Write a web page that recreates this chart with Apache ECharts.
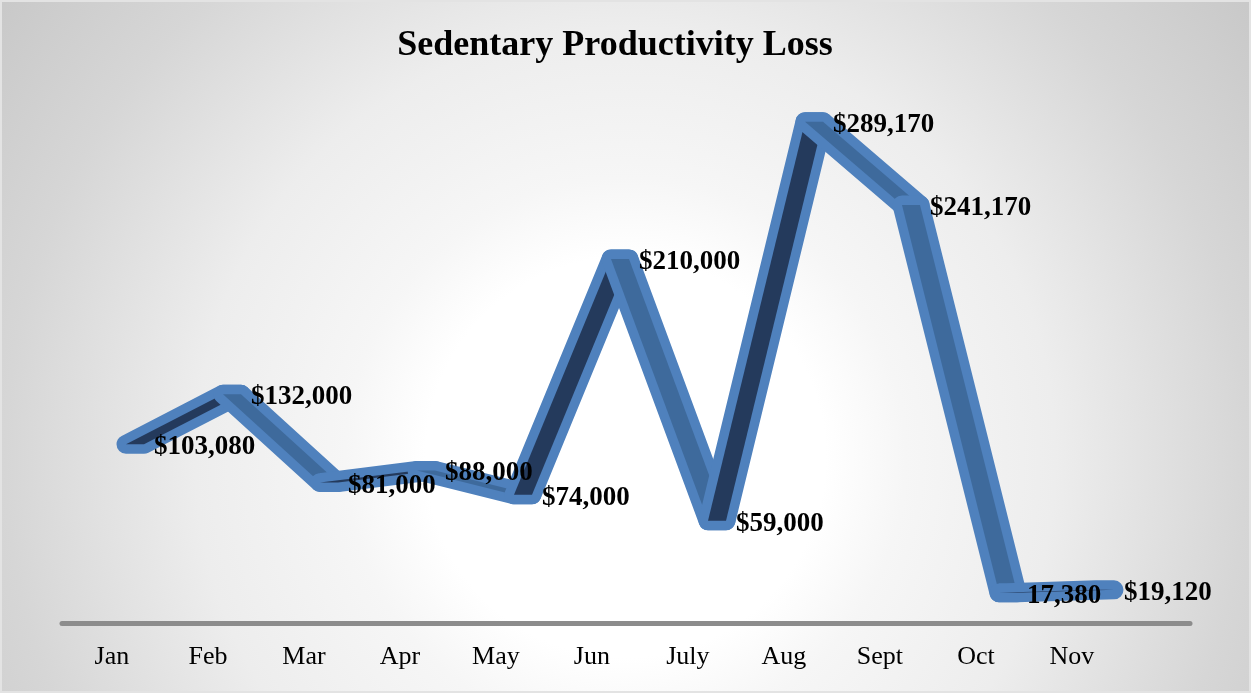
<!DOCTYPE html>
<html>
<head>
<meta charset="utf-8">
<title>Sedentary Productivity Loss</title>
<script src="https://cdn.jsdelivr.net/npm/echarts@6/dist/echarts.min.js"></script>
<style>
  html, body { margin: 0; padding: 0; }
  #chart {
    width: 1251px;
    height: 693px;
    background: radial-gradient(circle at 50% 66%, #ffffff 0px, #ffffff 200px, #f6f6f6 280px, #ededed 430px, #d6d6d6 620px, #c7c7c7 790px);
    box-shadow: inset 0 0 0 2px #e3e3e3;
  }
</style>
</head>
<body>
<div id="chart"></div>
<script>
// Monthly productivity loss
const months = ['Jan', 'Feb', 'Mar', 'Apr', 'May', 'Jun', 'July', 'Aug', 'Sept', 'Oct', 'Nov'];
const losses = [103080, 132000, 81000, 88000, 74000, 210000, 59000, 289170, 241170, 17380, 19120];
// months whose label is printed without the currency sign
const plainLabelMonths = ['Oct'];
const yMax = 300000;

const SERIF = '"Liberation Serif", "Times New Roman", serif';
const RIBBON = '#4f81bd';
const FACE_UP = '#243a5c';
const FACE_DOWN = '#3e6a9c';

// one item per segment: [start index, start value, end value]
const segments = losses.slice(0, -1).map((v, i) => [i, v, losses[i + 1]]);

function renderRibbon(params, api) {
  const i = api.value(0);
  const a = api.coord([i, api.value(1)]);
  const b = api.coord([i + 1, api.value(2)]);
  const half = 9; // half of the ribbon's depth, drawn as a horizontal skew
  const pts = [
    [a[0] - half, a[1]], [b[0] - half, b[1]],
    [b[0] + half, b[1]], [a[0] + half, a[1]]
  ];
  const rising = api.value(2) > api.value(1);
  return {
    type: 'group',
    children: [
      {
        type: 'polygon',
        shape: { points: pts },
        style: { fill: RIBBON, stroke: RIBBON, lineWidth: 19, lineJoin: 'round' }
      },
      {
        type: 'polygon',
        shape: { points: pts },
        style: { fill: rising ? FACE_UP : FACE_DOWN }
      }
    ]
  };
}

const chart = echarts.init(document.getElementById('chart'));
chart.setOption({
  backgroundColor: 'transparent',
  animation: false,
  title: {
    text: 'Sedentary Productivity Loss',
    left: 610,
    top: 23,
    textAlign: 'center',
    textStyle: { fontFamily: SERIF, fontWeight: 'bold', fontSize: 36, color: '#000' }
  },
  grid: [
    { left: 62, right: 61, top: 103, bottom: 70 },
    { left: 135, right: 146, top: 103, bottom: 70 }
  ],
  xAxis: [
    {
      gridIndex: 0,
      type: 'value',
      min: -0.52,
      max: 11.23,
      axisLine: { show: true, onZero: false, lineStyle: { color: '#8c8c8c', width: 5, cap: 'round' } },
      axisTick: { show: false },
      splitLine: { show: false },
      axisLabel: {
        customValues: months.map((m, i) => i),
        formatter: v => months[v],
        fontFamily: SERIF,
        fontSize: 26,
        color: '#000',
        margin: 21
      }
    },
    {
      gridIndex: 1,
      type: 'category',
      data: months,
      boundaryGap: false,
      show: false
    }
  ],
  yAxis: [
    { gridIndex: 0, type: 'value', min: 0, max: 1, show: false },
    { gridIndex: 1, type: 'value', min: 0, max: yMax, show: false }
  ],
  series: [
    {
      type: 'custom',
      xAxisIndex: 1,
      yAxisIndex: 1,
      encode: { x: 0, y: [1, 2] },
      data: segments,
      renderItem: renderRibbon,
      z: 2
    },
    {
      type: 'scatter',
      xAxisIndex: 1,
      yAxisIndex: 1,
      data: losses,
      symbolSize: 0,
      itemStyle: { color: 'transparent' },
      z: 5,
      label: {
        show: true,
        position: 'right',
        distance: 19,
        offset: [0, 3],
        fontFamily: SERIF,
        fontWeight: 'bold',
        fontSize: 27,
        color: '#000000',
        opacity: 1,
        textBorderWidth: 0,
        formatter: p => (plainLabelMonths.includes(months[p.dataIndex]) ? '' : '$') +
          p.value.toLocaleString('en-US')
      }
    }
  ]
});
</script>
</body>
</html>
